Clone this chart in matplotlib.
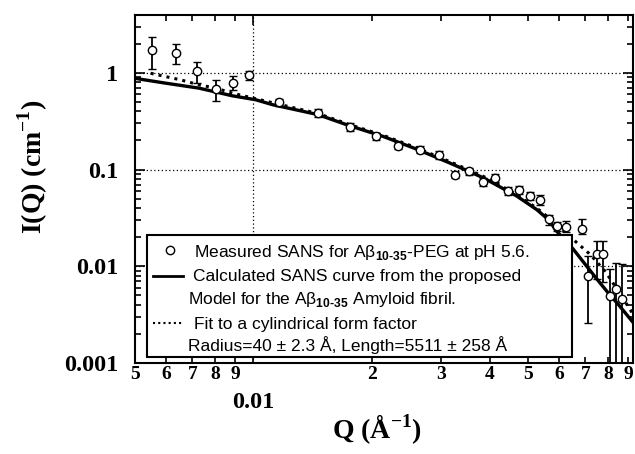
import matplotlib
matplotlib.use("Agg")
import matplotlib.pyplot as plt
import numpy as np
from matplotlib.lines import Line2D
from matplotlib.patches import Rectangle
from matplotlib.ticker import FixedLocator, FuncFormatter, NullFormatter

# measured SANS points: Q, I(Q), lower and upper end of error bar
q_meas = [0.00553, 0.00637, 0.00718, 0.00802, 0.00886, 0.00973, 0.0116, 0.0146,
          0.01757, 0.0205, 0.0233, 0.0265, 0.0297, 0.0326, 0.0354, 0.0384,
          0.0413, 0.0445, 0.0475, 0.0506, 0.0536, 0.0566, 0.0592, 0.0626,
          0.0685, 0.0711, 0.0748, 0.0778, 0.0806, 0.0837, 0.0867]
i_meas = [1.73, 1.60, 1.05, 0.68, 0.794, 0.953, 0.494, 0.384,
          0.273, 0.22, 0.177, 0.160, 0.141, 0.0888, 0.096, 0.074,
          0.081, 0.0596, 0.062, 0.053, 0.048, 0.0305, 0.026, 0.0254,
          0.0245, 0.0079, 0.0133, 0.0133, 0.0049, 0.0058, 0.0046]
i_lo = [1.09, 1.23, 0.78, 0.506, 0.67, 0.85, 0.45, 0.35,
        0.25, 0.20, 0.162, 0.147, 0.129, 0.081, 0.088, 0.067,
        0.074, 0.054, 0.056, 0.048, 0.043, 0.027, 0.023, 0.0225,
        0.0214, 0.0026, 0.0074, 0.0068, 1e-4, 1e-4, 1e-4]
i_hi = [2.37, 2.0, 1.30, 0.85, 0.93, 1.05, 0.54, 0.42,
        0.30, 0.24, 0.193, 0.175, 0.154, 0.097, 0.105, 0.082,
        0.089, 0.066, 0.068, 0.059, 0.054, 0.034, 0.029, 0.0295,
        0.0306, 0.0127, 0.0182, 0.0182, 0.0094, 0.0109, 0.0106]

# model curve (solid)
q_model = [0.00496, 0.00597, 0.00727, 0.00884, 0.01014, 0.0112, 0.0146, 0.01757,
           0.0214, 0.026, 0.0316, 0.0385, 0.0468, 0.0526, 0.0569, 0.0586,
           0.0652, 0.0742, 0.080, 0.085, 0.0925]
i_model = [0.882, 0.783, 0.695, 0.579, 0.527, 0.468, 0.37, 0.284,
           0.22, 0.163, 0.117, 0.0821, 0.0532, 0.0386, 0.0293, 0.024,
           0.0150, 0.0077, 0.0053, 0.0040, 0.00263]

# cylinder form factor fit (dotted)
q_cyl = [0.00548, 0.00597, 0.00653, 0.00727, 0.00802, 0.00884, 0.01014, 0.0146,
         0.01757, 0.0214, 0.026, 0.0316, 0.0385, 0.0468, 0.0526, 0.0569,
         0.0666, 0.0719, 0.0785, 0.085, 0.0925]
i_cyl = [0.99, 0.916, 0.847, 0.752, 0.695, 0.617, 0.54, 0.38,
         0.292, 0.226, 0.168, 0.121, 0.085, 0.055, 0.040, 0.031,
         0.0175, 0.0133, 0.0089, 0.0055, 0.0032]

plt.rcParams.update({
    "font.family": "Liberation Serif",
    "font.weight": "bold",
    "mathtext.fontset": "custom",
    "mathtext.rm": "Liberation Sans:bold",
    "axes.linewidth": 1.5,
})

fig = plt.figure(figsize=(6.35, 4.54), dpi=100)
ax = fig.add_axes([0.2126, 0.2004, 0.7843, 0.7665])
ax.set_xscale("log")
ax.set_yscale("log")
ax.set_xlim(0.005, 0.0925)
ax.set_ylim(0.001, 3.96)

q = np.array(q_meas)
i = np.array(i_meas)
yerr = [i - np.array(i_lo), np.array(i_hi) - i]
ax.errorbar(q, i, yerr=yerr, fmt="o", mfc="white", mec="black", ms=6, mew=1,
            ecolor="black", elinewidth=1.3, capsize=3.2, capthick=1.3, zorder=3)
ax.plot(q_model, i_model, "-", color="black", lw=2.4, zorder=2)
ax.plot(q_cyl, i_cyl, ":", color="black", lw=2.2, zorder=2)

# ticks
ax.xaxis.set_major_locator(FixedLocator([0.01]))
minor_x = [0.005, 0.006, 0.007, 0.008, 0.009] + [k / 100 for k in range(2, 10)]
ax.xaxis.set_minor_locator(FixedLocator(minor_x))
ax.xaxis.set_major_formatter(FuncFormatter(lambda v, p: "0.01"))
ax.xaxis.set_minor_formatter(FuncFormatter(lambda v, p: f"{v:.3f}".rstrip("0")[-1]))
ax.yaxis.set_major_locator(FixedLocator([0.001, 0.01, 0.1, 1]))
ax.yaxis.set_major_formatter(FuncFormatter(lambda v, p: f"{v:g}"))
ax.yaxis.set_minor_formatter(NullFormatter())

ax.tick_params(which="both", direction="in", top=True, right=True, width=1.2)
ax.tick_params(which="major", length=7)
ax.tick_params(which="minor", length=4)
ax.tick_params(axis="x", which="minor", pad=2, labelsize=14)
ax.tick_params(axis="x", which="major", pad=21, labelsize=17.5)
ax.tick_params(axis="y", which="major", pad=12, labelsize=17.5)

ax.grid(True, which="major", linestyle=(0, (1, 2)), color="black", lw=0.9)

ax.set_xlabel(r"Q (Å$^{\mathregular{-1}}$)", fontsize=20, fontweight="bold")
ax.xaxis.set_label_coords(0.486, -0.143)
ax.set_ylabel(r"I(Q) (cm$^{\mathregular{-1}}$)", fontsize=20, fontweight="bold")
ax.yaxis.set_label_coords(-0.171, 0.563)

# legend drawn by hand so handles line up with the first text line
tr = ax.transAxes
ax.add_patch(Rectangle((0.0235, 0.0181), 0.8535, 0.3497, transform=tr,
                       facecolor="white", edgecolor="black", lw=1.5, zorder=5))
ax.add_line(Line2D([0.0703], [0.3247], transform=tr, marker="o", mfc="white",
                   mec="black", ms=6, mew=1, zorder=6))
ax.add_line(Line2D([0.036, 0.096], [0.251, 0.251], transform=tr, color="black",
                   lw=2, zorder=6))
ax.add_line(Line2D([0.036, 0.094], [0.114, 0.114], transform=tr, color="black",
                   lw=1.5, ls=(0, (1, 1.5)), zorder=6))

leg_kw = dict(transform=tr, fontsize=12.5, fontweight="normal",
              family="Liberation Sans", va="baseline", ha="left", zorder=6)
ax.text(0.119, 0.3055, r"Measured SANS for Aβ$_{\text{10-35}}$-PEG at pH 5.6.", **leg_kw)
ax.text(0.117, 0.2356, "Calculated SANS curve from the proposed", **leg_kw)
ax.text(0.107, 0.1695, r"Model for the Aβ$_{\text{10-35}}$ Amyloid fibril.", **leg_kw)
ax.text(0.119, 0.0968, "Fit to a cylindrical form factor", **leg_kw)
ax.text(0.107, 0.0353, "Radius=40 ± 2.3 Å, Length=5511 ± 258 Å", **leg_kw)

fig.savefig("out.png", dpi=100)
